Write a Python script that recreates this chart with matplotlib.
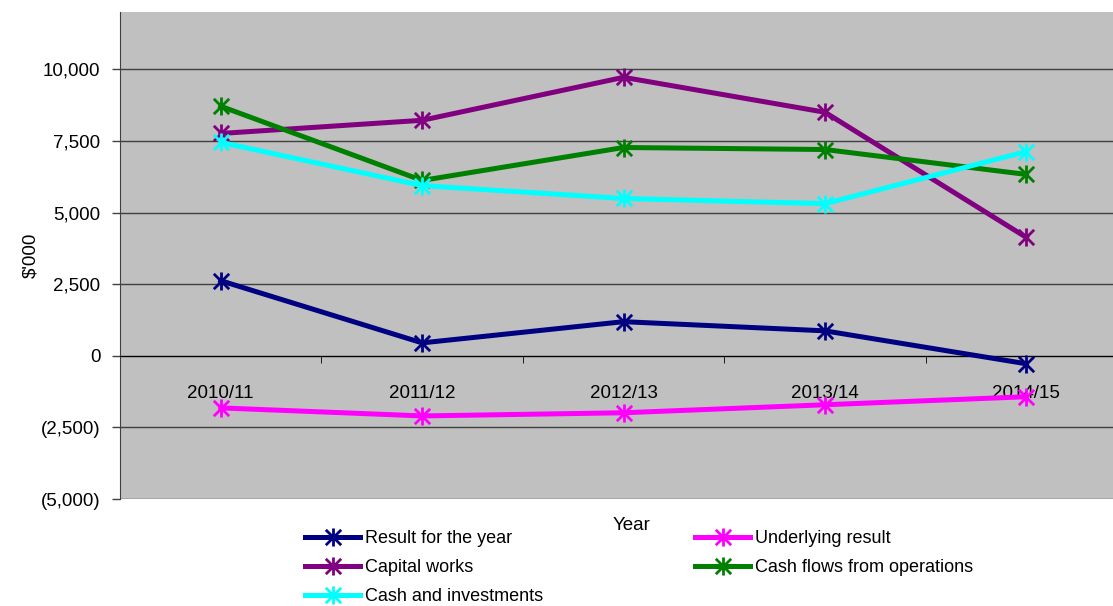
import matplotlib.pyplot as plt
from matplotlib.path import Path

years = ['2010/11', '2011/12', '2012/13', '2013/14', '2014/15']
result_year = [2620, 450, 1190, 870, -280]
underlying = [-1820, -2100, -1990, -1710, -1430]
capital_works = [7760, 8220, 9720, 8500, 4130]
cash_flows = [8710, 6120, 7270, 7200, 6330]
cash_invest = [7450, 5940, 5490, 5310, 7130]

series = [
    ('Result for the year', result_year, '#000080'),
    ('Underlying result', underlying, '#ff00ff'),
    ('Capital works', capital_works, '#800080'),
    ('Cash flows from operations', cash_flows, '#008000'),
    ('Cash and investments', cash_invest, '#00ffff'),
]

# excel style asterisk marker: vertical bar plus an X
star = Path([(0, 1), (0, -1), (-0.85, 0.85), (0.85, -0.85), (-0.85, -0.85), (0.85, 0.85)],
            [Path.MOVETO, Path.LINETO, Path.MOVETO, Path.LINETO, Path.MOVETO, Path.LINETO])

plt.rcParams['font.family'] = ['Liberation Sans', 'DejaVu Sans']

fig = plt.figure(figsize=(11.13, 6.06), dpi=100)
ax = fig.add_axes([120 / 1113, 107 / 606, 1 - 120 / 1113, (499 - 12) / 606])
ax.set_facecolor('#c0c0c0')

x = list(range(len(years)))
lines = {}
for name, vals, col in series:
    lines[name], = ax.plot(x, vals, color=col, lw=3.6, marker=star, ms=13,
                           mew=2.0, mec=col, mfc='none', label=name, zorder=3)

ax.set_yticks(range(-5000, 10001, 2500))
ax.set_yticklabels(['(5,000)', '(2,500)', '0', '2,500', '5,000', '7,500', '10,000'], fontsize=13.5)
ax.yaxis.grid(True, color='#404040', lw=1)
ax.set_axisbelow(True)
ax.tick_params(axis='y', length=6, width=1, color='#404040', pad=8)

ax.spines['top'].set_visible(False)
ax.spines['right'].set_visible(False)
ax.spines['left'].set_color('#404040')
ax.spines['bottom'].set_position(('data', 0))
ax.spines['bottom'].set_color('black')

ax.set_xticks(x)
ax.set_xticklabels(years, fontsize=13.5)
ax.set_xticks([0.5, 1.5, 2.5, 3.5], minor=True)
ax.tick_params(axis='x', which='major', length=0, pad=21)
ax.tick_params(axis='x', which='minor', length=5, direction='out')

# limits after the ticks, so the ticks don't widen them
ax.set_ylim(-5000, 12000)
ax.set_xlim(-0.5, 4.43)

ax.set_ylabel("$'000", fontsize=13.5, labelpad=1)
fig.text(632 / 1113, 1 - 525 / 606, 'Year', fontsize=13.5, ha='center', va='center')

order = ['Result for the year', 'Underlying result', 'Capital works',
         'Cash flows from operations', 'Cash and investments']
handles = [lines[n] for n in order]
kw = dict(loc='upper left', frameon=False, fontsize=13, handlelength=3.05,
          handletextpad=0.28, labelspacing=0.66, borderaxespad=0, borderpad=0)
fig.legend([handles[0], handles[2], handles[4]], [order[0], order[2], order[4]],
           bbox_to_anchor=(305 / 1113, 1 - 530 / 606), **kw)
fig.legend([handles[1], handles[3]], [order[1], order[3]],
           bbox_to_anchor=(695 / 1113, 1 - 530 / 606), **kw)

fig.savefig('out.png', dpi=100)
